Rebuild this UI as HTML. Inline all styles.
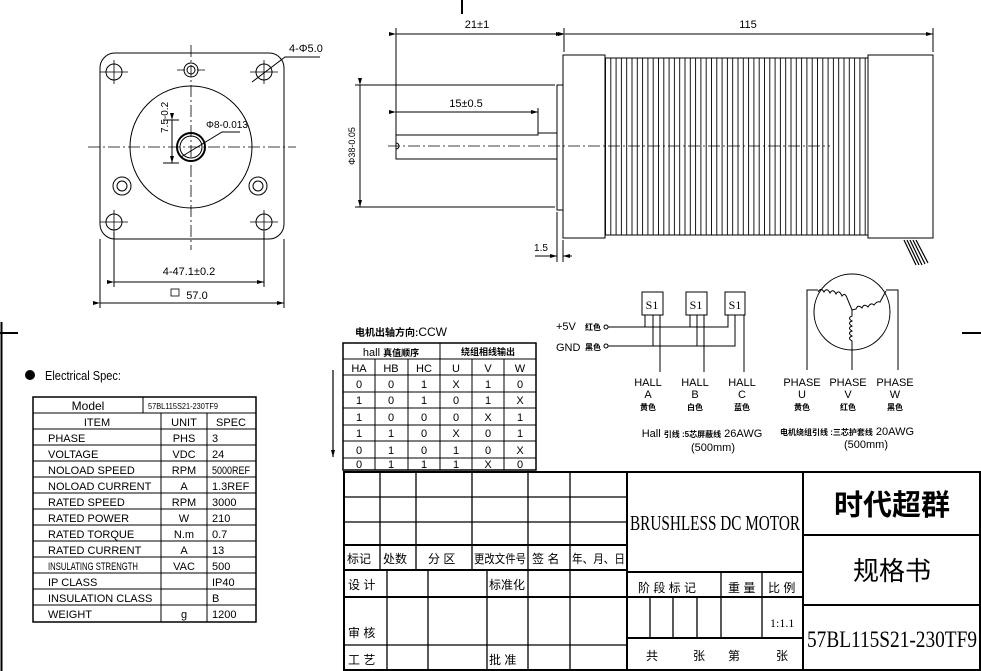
<!DOCTYPE html>
<html><head><meta charset="utf-8"><style>
html,body{margin:0;padding:0;background:#fff}
svg{display:block}
text{font-family:"Liberation Sans Narrow","Liberation Sans","Noto Sans CJK SC",sans-serif;fill:#000}
.s{font-family:"Liberation Serif","Noto Serif CJK SC",serif}
.c{font-family:"Liberation Sans","Noto Sans CJK SC",sans-serif}
</style></head><body>
<svg width="981" height="671" viewBox="0 0 981 671" xmlns="http://www.w3.org/2000/svg">
<defs>
<pattern id="fin" x="605" y="0" width="5.3" height="10" patternUnits="userSpaceOnUse">
<line x1="0.5" y1="0" x2="0.5" y2="10" stroke="#000" stroke-width="0.9"/>
</pattern>
<marker id="ar" markerWidth="7" markerHeight="4" refX="7" refY="2" orient="auto" markerUnits="userSpaceOnUse"><path d="M0,0 L7,2 L0,4z" fill="#000"/></marker>
</defs>
<g fill="none" stroke="#000" stroke-width="1">
<line x1="462" y1="0" x2="462" y2="14" stroke-width="2"/>
<line x1="1.5" y1="322" x2="1.5" y2="671" stroke-width="2"/>
<line x1="0" y1="333" x2="18" y2="333" stroke-width="2"/>
<line x1="962" y1="333" x2="981" y2="333" stroke-width="2"/>

<rect x="100" y="53" width="184" height="186" rx="15"/>
<circle cx="191" cy="147" r="61"/>
<circle cx="191" cy="147" r="14" stroke-width="2"/>
<circle cx="191" cy="147" r="11"/>
<circle cx="191" cy="70" r="7"/><circle cx="191" cy="70" r="4"/>
<circle cx="122" cy="186" r="9"/><circle cx="122" cy="186" r="5"/>
<circle cx="258" cy="186" r="9"/><circle cx="258" cy="186" r="5"/>
<circle cx="114" cy="72" r="8"/><circle cx="264" cy="72" r="8"/>
<circle cx="114" cy="222" r="8"/><circle cx="264" cy="222" r="8"/>
<g stroke-dasharray="12,3,2,3" stroke-width="0.8">
<line x1="88" y1="147" x2="296" y2="147"/>
<line x1="191" y1="45" x2="191" y2="250"/>
</g>
<path d="M100,72h28M250,72h28M100,222h28M250,222h28M114,60v24M264,60v24M114,210v24M264,210v24M177,70h8M197,70h8" stroke-width="0.8"/>
<path d="M252,82 L285,57 H320"/>
<path d="M181,157 L222,132 H240"/>
<path d="M163,120 h16 M163,163 h16"/>
<line x1="172" y1="120" x2="172" y2="163" marker-end="url(#ar)" marker-start="url(#ar)"/>
<path d="M114,232 V287 M264,232 V287 M100,239 V308 M284,239 V308"/>
<line x1="114" y1="282" x2="264" y2="282" marker-start="url(#ar)" marker-end="url(#ar)"/>
<line x1="100" y1="303" x2="284" y2="303" marker-start="url(#ar)" marker-end="url(#ar)"/>
<rect x="171" y="289" width="8" height="7" stroke-width="0.8"/>

<rect x="557" y="85" width="6" height="125"/>
<rect x="563" y="55" width="42" height="183"/>
<rect x="605" y="58" width="263" height="177" fill="url(#fin)"/>
<rect x="868" y="55" width="65" height="183"/>
<path d="M396,135 H538 V133 H557 M396,135 V159 H557"/>
<path d="M396,143 a3,3 0 0 1 0,6"/>
<line x1="388" y1="146" x2="830" y2="146" stroke-dasharray="12,3,2,3" stroke-width="0.8"/>
<path d="M396,28 V135 M564,28 V52 M933,28 V52 M538,108 V133 M355,85 H555 M355,207 H555 M557,212 V262 M563,240 V262"/>
<line x1="396" y1="34" x2="563" y2="34" marker-start="url(#ar)" marker-end="url(#ar)"/>
<line x1="565" y1="34" x2="933" y2="34" marker-start="url(#ar)" marker-end="url(#ar)"/>
<line x1="396" y1="112" x2="538" y2="112" marker-start="url(#ar)" marker-end="url(#ar)"/>
<line x1="360" y1="85" x2="360" y2="207" marker-start="url(#ar)" marker-end="url(#ar)"/>
<line x1="535" y1="256" x2="557" y2="256" marker-end="url(#ar)"/>
<line x1="572" y1="256" x2="563" y2="256" marker-end="url(#ar)"/>
<path d="M904,240 L916,265 M907,240 L919,265 M910,240 L922,265 M913,240 L925,264 M916,240 L928,263" stroke-width="1.2"/>

<line x1="333" y1="370" x2="333" y2="457" marker-end="url(#ar)" stroke-width="1.2"/>

<rect x="33" y="397" width="223" height="225" stroke-width="1.5"/>
<path d="M33,413H256 M33,429H256 M33,445H256 M33,461H256 M33,477H256 M33,493H256 M33,509H256 M33,525H256 M33,541H256 M33,557H256 M33,573H256 M33,589H256 M33,605H256"/>
<path d="M143,397V413 M161,413V622 M207,413V622"/>

<rect x="343" y="343" width="193" height="127" stroke-width="1.5"/>
<path d="M343,359H536 M343,375H536 M343,392H536 M343,408H536 M343,425H536 M343,441H536 M343,458H536"/>
<path d="M440,343V470 M375,359V470 M408,359V470 M472,359V470 M504,359V470"/>

<circle cx="606" cy="327" r="2"/><circle cx="606" cy="346" r="2"/>
<path d="M608,327H728V315 M645,327V315 M690,327V315 M608,346H735V315 M653,346V315 M697,346V315 M660,315V372 M704,315V372 M744,315V372"/>
<rect x="642" y="292" width="21" height="23"/>
<rect x="686" y="292" width="21" height="23"/>
<rect x="725" y="292" width="20" height="23"/>

<circle cx="852" cy="312" r="38"/>
<path d="M818,290H807V370 M886,290H898V370 M852,348V370"/>
<path d="M818,292 q3,-5 6,0 q3,-5 6,1 q3,-5 6,1 q3,-5 6,2 q3,-4 5,2 L852,310 L856,309 q2,-5 6,-1 q2,-5 6,-1 q3,-5 6,-2 q3,-4 6,-3 L886,291 M852,310 V316 q-5,2 0,5 q-5,2 0,5 q-5,2 0,5 q-5,2 0,5 q-5,2 0,5 V348"/>

<g stroke-width="2">
<rect x="344" y="472" width="636" height="198"/>
<path d="M627,472V670 M803,472V670 M344,545H627 M344,570H627 M344,597H627 M627,572H803 M627,597H803 M627,638H803 M803,535H980 M803,605H980"/>
</g>
<g stroke-width="1.3">
<path d="M344,497H627 M344,522H627 M344,645H627"/>
<path d="M380,472V570 M416,472V570 M472,472V570 M528,472V670 M570,472V670 M387,570V670 M428,570V670 M487,570V670"/>
<path d="M721,572V638 M762,572V638 M650,597V638 M673,597V638 M697,597V638"/>
</g>
</g>

<g font-size="10">
<text x="289" y="52" font-size="11">4-Φ5.0</text>
<text x="206" y="128" font-size="10">Φ8-0.013</text>
<text x="168" y="133" font-size="10" transform="rotate(-90 168 133)">7.5-0.2</text>
<text x="189" y="275" font-size="11" text-anchor="middle">4-47.1±0.2</text>
<text x="197" y="299" font-size="11" text-anchor="middle">57.0</text>
<text x="477" y="28" font-size="11" text-anchor="middle">21±1</text>
<text x="748" y="28" font-size="11" text-anchor="middle">115</text>
<text x="466" y="107" font-size="11" text-anchor="middle">15±0.5</text>
<text x="541" y="251" font-size="10" text-anchor="middle">1.5</text>
<text x="355" y="146" font-size="9" transform="rotate(-90 355 146)" text-anchor="middle">Φ38-0.05</text>
</g>
<circle cx="30" cy="375" r="5" fill="#000"/>
<text x="45" y="380" font-size="13" textLength="76" lengthAdjust="spacingAndGlyphs">Electrical Spec:</text>
<g font-size="11">
<text x="88" y="410" text-anchor="middle" font-size="12">Model</text>
<text x="148" y="409" font-size="8" textLength="70" lengthAdjust="spacingAndGlyphs">57BL115S21-230TF9</text>
<text x="97" y="426" text-anchor="middle">ITEM</text><text x="184" y="426" text-anchor="middle">UNIT</text><text x="231" y="426" text-anchor="middle">SPEC</text>
<text x="48" y="442">PHASE</text><text x="184" y="442" text-anchor="middle">PHS</text><text x="212" y="442">3</text>
<text x="48" y="458">VOLTAGE</text><text x="184" y="458" text-anchor="middle">VDC</text><text x="212" y="458">24</text>
<text x="48" y="474">NOLOAD SPEED</text><text x="184" y="474" text-anchor="middle">RPM</text><text x="212" y="474" textLength="38" lengthAdjust="spacingAndGlyphs">5000REF</text>
<text x="48" y="490">NOLOAD CURRENT</text><text x="184" y="490" text-anchor="middle">A</text><text x="212" y="490">1.3REF</text>
<text x="48" y="506">RATED SPEED</text><text x="184" y="506" text-anchor="middle">RPM</text><text x="212" y="506">3000</text>
<text x="48" y="522">RATED POWER</text><text x="184" y="522" text-anchor="middle">W</text><text x="212" y="522">210</text>
<text x="48" y="538">RATED TORQUE</text><text x="184" y="538" text-anchor="middle">N.m</text><text x="212" y="538">0.7</text>
<text x="48" y="554">RATED CURRENT</text><text x="184" y="554" text-anchor="middle">A</text><text x="212" y="554">13</text>
<text x="48" y="570" textLength="90" lengthAdjust="spacingAndGlyphs">INSULATING STRENGTH</text><text x="184" y="570" text-anchor="middle">VAC</text><text x="212" y="570">500</text>
<text x="48" y="586">IP CLASS</text><text x="212" y="586">IP40</text>
<text x="48" y="602">INSULATION CLASS</text><text x="212" y="602">B</text>
<text x="48" y="618">WEIGHT</text><text x="184" y="618" text-anchor="middle">g</text><text x="212" y="618">1200</text>
</g>
<text x="355" y="336" font-size="10" font-weight="bold">电机出轴方向:<tspan font-size="12" font-weight="normal">CCW</tspan></text>
<g font-size="11" text-anchor="middle">
<text x="391" y="356">hall <tspan font-size="9" font-weight="bold">真值顺序</tspan></text>
<text x="488" y="355" font-size="9" font-weight="bold">绕组相线输出</text>
<text x="359" y="372">HA</text><text x="391" y="372">HB</text><text x="424" y="372">HC</text><text x="456" y="372">U</text><text x="488" y="372">V</text><text x="520" y="372">W</text>
<text x="359" y="388">0</text><text x="391" y="388">0</text><text x="424" y="388">1</text><text x="456" y="388">X</text><text x="488" y="388">1</text><text x="520" y="388">0</text>
<text x="359" y="404">1</text><text x="391" y="404">0</text><text x="424" y="404">1</text><text x="456" y="404">0</text><text x="488" y="404">1</text><text x="520" y="404">X</text>
<text x="359" y="421">1</text><text x="391" y="421">0</text><text x="424" y="421">0</text><text x="456" y="421">0</text><text x="488" y="421">X</text><text x="520" y="421">1</text>
<text x="359" y="437">1</text><text x="391" y="437">1</text><text x="424" y="437">0</text><text x="456" y="437">X</text><text x="488" y="437">0</text><text x="520" y="437">1</text>
<text x="359" y="454">0</text><text x="391" y="454">1</text><text x="424" y="454">0</text><text x="456" y="454">1</text><text x="488" y="454">0</text><text x="520" y="454">X</text>
<text x="359" y="468">0</text><text x="391" y="468">1</text><text x="424" y="468">1</text><text x="456" y="468">1</text><text x="488" y="468">X</text><text x="520" y="468">0</text>
</g>
<text x="556" y="330" font-size="11">+5V</text><text x="585" y="330" font-size="8" font-weight="bold">红色</text>
<text x="556" y="351" font-size="11">GND</text><text x="585" y="350" font-size="8" font-weight="bold">黑色</text>
<g font-size="12" text-anchor="middle">
<text x="652" y="309" class="s">S1</text><text x="696" y="309" class="s">S1</text><text x="735" y="309" class="s">S1</text>
</g>
<g font-size="11" text-anchor="middle">
<text x="648" y="386">HALL</text><text x="648" y="398">A</text><text x="648" y="410" font-size="8" font-weight="bold">黄色</text>
<text x="695" y="386">HALL</text><text x="695" y="398">B</text><text x="695" y="410" font-size="8" font-weight="bold">白色</text>
<text x="742" y="386">HALL</text><text x="742" y="398">C</text><text x="742" y="410" font-size="8" font-weight="bold">蓝色</text>
<text x="802" y="386">PHASE</text><text x="802" y="398">U</text><text x="802" y="410" font-size="8" font-weight="bold">黄色</text>
<text x="848" y="386">PHASE</text><text x="848" y="398">V</text><text x="848" y="410" font-size="8" font-weight="bold">红色</text>
<text x="895" y="386">PHASE</text><text x="895" y="398">W</text><text x="895" y="410" font-size="8" font-weight="bold">黑色</text>
<text x="702" y="437">Hall <tspan font-size="8" font-weight="bold">引线 :5芯屏蔽线</tspan> 26AWG</text>
<text x="713" y="451">(500mm)</text>
<text x="847" y="435"><tspan font-size="8" font-weight="bold">电机绕组引线 :三芯护套线</tspan> 20AWG</text>
<text x="866" y="448">(500mm)</text>
</g>
<text x="715" y="530" class="s" font-size="21" text-anchor="middle" textLength="170" lengthAdjust="spacingAndGlyphs">BRUSHLESS DC MOTOR</text>
<text x="892" y="515" class="c" font-size="29" font-weight="bold" text-anchor="middle">时代超群</text>
<text x="892" y="580" font-size="26" text-anchor="middle" font-family="Noto Sans CJK SC">规格书</text>
<text x="892" y="647" class="s" font-size="23" text-anchor="middle" textLength="170" lengthAdjust="spacingAndGlyphs">57BL115S21-230TF9</text>
<g font-size="12" font-family="Noto Serif CJK SC">
<text x="347" y="563">标记</text><text x="383" y="563">处数</text><text x="428" y="563">分 区</text><text x="474" y="563" textLength="52" lengthAdjust="spacingAndGlyphs">更改文件号</text><text x="532" y="563">签 名</text><text x="572" y="563" textLength="53" lengthAdjust="spacingAndGlyphs">年、月、日</text>
<text x="348" y="589">设 计</text><text x="489" y="589">标准化</text>
<text x="348" y="637">审 核</text><text x="348" y="664">工 艺</text><text x="489" y="664">批 准</text>
<text x="638" y="592">阶 段 标 记</text><text x="728" y="592">重 量</text><text x="768" y="592">比 例</text>
<text x="646" y="660">共</text><text x="693" y="660">张</text><text x="728" y="660">第</text><text x="776" y="660">张</text>
</g>
<text x="770" y="627" class="s" font-size="12">1:1.1</text>
</svg>
</body></html>
